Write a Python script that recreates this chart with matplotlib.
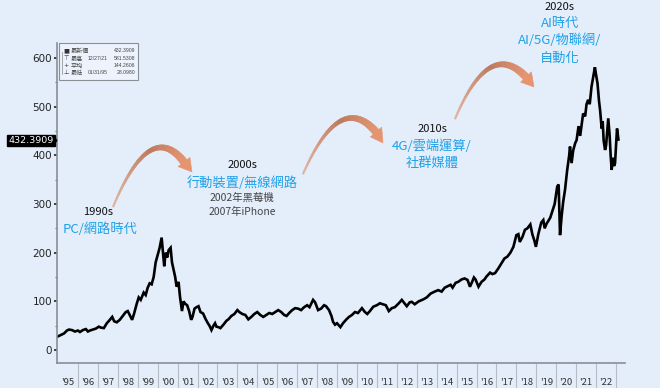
import numpy as np
import matplotlib
matplotlib.use("Agg")
import matplotlib.pyplot as plt
from matplotlib.patches import Polygon, Rectangle
from matplotlib.ticker import FixedLocator, MultipleLocator

plt.rcParams['font.family'] = ['Noto Sans CJK TC', 'DejaVu Sans']

# ---------------- data ----------------
years = [
 1995.00,1995.15,1995.30,1995.45,1995.55,1995.70,1995.85,1996.00,1996.10,1996.25,
 1996.40,1996.50,1996.60,1996.75,1996.90,1997.05,1997.15,1997.30,1997.45,1997.60,
 1997.72,1997.82,1997.95,1998.10,1998.25,1998.40,1998.50,1998.62,1998.72,1998.82,
 1998.95,1999.05,1999.15,1999.30,1999.40,1999.50,1999.60,1999.70,1999.80,1999.90,
 2000.00,2000.10,2000.20,2000.28,2000.33,2000.40,2000.48,2000.55,2000.65,2000.72,
 2000.80,2000.88,2000.95,2001.05,2001.12,2001.22,2001.30,2001.38,2001.48,2001.58,
 2001.68,2001.75,2001.85,2001.95,2002.05,2002.15,2002.28,2002.40,2002.52,2002.60,
 2002.70,2002.80,2002.88,2002.95,2003.05,2003.15,2003.30,2003.45,2003.55,2003.70,
 2003.85,2004.00,2004.10,2004.25,2004.40,2004.55,2004.70,2004.85,2005.00,2005.15,
 2005.30,2005.45,2005.60,2005.75,2005.90,2006.05,2006.20,2006.35,2006.47,2006.60,
 2006.75,2006.90,2007.05,2007.20,2007.35,2007.50,2007.62,2007.80,2007.90,2008.05,
 2008.20,2008.35,2008.45,2008.60,2008.72,2008.80,2008.90,2009.00,2009.17,2009.30,
 2009.45,2009.60,2009.75,2009.90,2010.05,2010.25,2010.40,2010.52,2010.65,2010.82,
 2011.00,2011.15,2011.30,2011.45,2011.60,2011.75,2011.90,2012.10,2012.25,2012.40,
 2012.50,2012.65,2012.75,2012.90,2013.10,2013.33,2013.50,2013.70,2013.90,2014.08,
 2014.25,2014.40,2014.55,2014.70,2014.80,2014.95,2015.08,2015.25,2015.40,2015.55,
 2015.67,2015.78,2015.87,2015.95,2016.10,2016.25,2016.40,2016.50,2016.68,2016.80,
 2016.93,2017.10,2017.25,2017.40,2017.55,2017.70,2017.85,2018.00,2018.10,2018.17,
 2018.30,2018.43,2018.55,2018.70,2018.80,2018.90,2018.98,2019.10,2019.25,2019.35,
 2019.42,2019.52,2019.60,2019.70,2019.80,2019.92,2020.05,2020.12,2020.19,2020.27,
 2020.35,2020.44,2020.55,2020.65,2020.69,2020.77,2020.85,2020.95,2021.02,2021.12,
 2021.20,2021.30,2021.35,2021.45,2021.52,2021.60,2021.68,2021.77,2021.85,2021.94,
 2022.00,2022.07,2022.15,2022.20,2022.28,2022.33,2022.38,2022.45,2022.50,2022.55,
 2022.61,2022.68,2022.73,2022.78,2022.85,2022.90,2022.95,2023.00,2023.05,2023.12,
]
values = [
 28,31,34,40,42,41,38,40,37,41,
 43,38,40,42,44,48,46,45,55,62,
 68,59,57,62,70,78,80,70,62,75,
 95,108,103,118,113,128,137,135,150,180,
 195,210,231,195,172,200,190,205,210,180,
 165,150,130,140,110,80,100,95,92,80,
 62,68,85,88,90,78,75,64,55,50,
 41,50,55,48,47,45,52,60,63,70,
 74,82,78,74,72,63,68,74,78,72,
 68,72,76,74,78,82,78,72,70,76,
 82,86,85,82,88,92,88,103,98,82,
 85,92,90,82,70,58,52,55,47,55,
 62,68,72,78,76,86,78,74,80,89,
 92,96,94,92,80,86,88,96,103,95,
 90,98,99,94,100,104,108,116,120,123,
 120,128,131,134,128,138,140,145,147,144,
 130,140,149,145,130,140,145,151,159,156,
 158,168,178,188,192,200,212,236,238,222,
 232,247,250,258,238,225,212,238,262,267,
 250,260,265,272,285,300,336,340,236,275,
 305,329,370,400,418,384,410,425,431,460,
 440,470,486,480,505,514,505,541,560,581,
 565,548,510,493,455,470,430,411,420,445,
 476,440,400,370,395,378,384,420,455,432.3909,
]
year_labels = ["'95","'96","'97","'98","'99","'00","'01","'02","'03","'04",
               "'05","'06","'07","'08","'09","'10","'11","'12","'13","'14",
               "'15","'16","'17","'18","'19","'20","'21","'22"]
latest = 432.3909
high_date, high_val = "12/27/21", 581.5308
avg_val = 144.2606
low_date, low_val = "01/31/95", 28.0980

# ---------------- figure ----------------
BG = '#e4eefb'
BLUE = '#1ea0e8'
W, H = 660, 388
fig = plt.figure(figsize=(6.6, 3.88), dpi=100, facecolor=BG)
ax = fig.add_axes([57/W, 1-363/H, (625-57)/W, (363-43)/H], facecolor=BG)

ax.plot(years, values, color='black', lw=1.9, solid_joinstyle='miter')
ax.set_xlim(1994.95, 2023.45)
ax.set_ylim(-26.7, 630.8)

for s in ['top', 'right']:
    ax.spines[s].set_visible(False)
for s in ['left', 'bottom']:
    ax.spines[s].set_color('#8a8f96')
    ax.spines[s].set_linewidth(1.2)

ax.yaxis.set_major_locator(MultipleLocator(100))
ax.yaxis.set_minor_locator(MultipleLocator(50))
ax.tick_params(axis='y', which='major', length=2.5, width=1.2, pad=1,
               labelsize=7.5, colors='#222222')
ax.tick_params(axis='y', which='minor', length=1.5, width=0.8, color='#777777')
for t in ax.get_yticklabels():
    t.set_family('DejaVu Sans')

n = len(year_labels)
ax.xaxis.set_major_locator(FixedLocator([1996 + i for i in range(n)]))
ax.xaxis.set_minor_locator(FixedLocator([1995.5 + i for i in range(n)]))
ax.set_xticklabels([], minor=False)
ax.set_xticklabels(year_labels, minor=True)
ax.tick_params(axis='x', which='major', length=18, width=0.8, color='#b5bcc6', direction='out')
ax.tick_params(axis='x', which='minor', length=0, pad=11, labelsize=6.8, labelcolor='#333333')

# ---------------- overlay in pixel coords ----------------
ov = fig.add_axes([0, 0, 1, 1])
ov.set_xlim(0, W)
ov.set_ylim(H, 0)
ov.axis('off')
ov.patch.set_alpha(0)

# price tag
ov.text(54, 140.5, f"{latest:.4f}", ha='right', va='center', fontsize=6.8, color='white',
        family='DejaVu Sans',
        bbox=dict(boxstyle='square,pad=0.15', fc='black', ec='black'))
ov.add_patch(Polygon([[54.5, 136], [57.5, 140.5], [54.5, 145]], closed=True, fc='black', ec='none'))

# legend box
ov.add_patch(Rectangle((58.5, 43), 79, 37, fc='#edf3fc', ec='#8a8f96', lw=0.8, zorder=3))
rows = [("■", "最新價", "", f"{latest:.4f}"),
        ("⊤", "最高", high_date, f"{high_val:.4f}"),
        ("+", "平均", "", f"{avg_val:.4f}"),
        ("⊥", "最低", low_date, f"{low_val:.4f}")]
ry = [51, 58.5, 65.5, 73]
for (sym, lab, dt, val), y in zip(rows, ry):
    ov.text(66, y, sym, ha='center', va='center', fontsize=4.5, color='#333333', zorder=4,
            family=['DejaVu Sans'])
    ov.text(71, y, lab, ha='left', va='center', fontsize=4.4, color='#444444', zorder=4)
    if dt:
        ov.text(88, y, dt, ha='left', va='center', fontsize=3.7, color='#444444', zorder=4,
                family='Liberation Sans')
    ov.text(135, y, val, ha='right', va='center', fontsize=3.7, color='#444444', zorder=4,
            family='Liberation Sans')
ov.plot([61.5, 61.5], [52, 74], color='#999999', lw=0.6, zorder=4)

# curved tapered arrows
def arrow(p0, p1, p2, tip, w0=1.5, w1=7.5, head_w=15):
    p0, p1, p2, tip = map(np.array, (p0, p1, p2, tip))
    t = np.linspace(0, 1, 60)
    pts = ((1-t)[:, None]**2)*p0 + (2*(1-t)*t)[:, None]*p1 + (t[:, None]**2)*p2
    d = 2*(1-t)[:, None]*(p1-p0) + 2*t[:, None]*(p2-p1)
    d = d / np.linalg.norm(d, axis=1)[:, None]
    nrm = np.stack([-d[:, 1], d[:, 0]], axis=1)
    w = (w0 + (w1-w0)*t**1.2)/2
    L = pts + nrm*w[:, None]
    R = pts - nrm*w[:, None]
    c_tail = np.array([0.88, 0.70, 0.62])
    c_mid = np.array([0.74, 0.47, 0.35])
    c_head = np.array([0.90, 0.58, 0.44])
    for i in range(len(t)-1):
        tt = t[i]
        if tt < 0.5:
            c = c_tail + (c_mid-c_tail)*(tt/0.5)
        else:
            c = c_mid + (c_head-c_mid)*((tt-0.5)/0.5)
        poly = [L[i], L[i+1], R[i+1], R[i]]
        ov.add_patch(Polygon(poly, closed=True, fc=c, ec=c, lw=0.4, zorder=2))
    nn = nrm[-1]
    base = pts[-1]
    head = [base + nn*head_w/2, tip, base - nn*head_w/2]
    ov.add_patch(Polygon(head, closed=True, fc=c_head, ec=c_head, lw=0.4, zorder=2))

arrow((113, 207), (150, 118), (184, 162), (192, 172))
arrow((303, 174), (340, 90), (376, 132), (383, 143))
arrow((455, 119), (489, 38), (526, 77), (534, 87))

# annotation texts
def label(x, y, s, fs, color):
    ov.text(x, y, s, ha='center', va='center', fontsize=fs, color=color)

label(98, 212, "1990s", 8, '#111111')
label(100, 229, "PC/網路時代", 9.5, BLUE)
label(242, 165, "2000s", 8, '#111111')
label(242, 183, "行動裝置/無線網路", 9.5, BLUE)
label(242, 198, "2002年黑莓機", 7.5, '#444444')
label(242, 212, "2007年iPhone", 7.5, '#444444')
label(432, 129, "2010s", 8, '#111111')
label(432, 146, "4G/雲端運算/", 9.5, BLUE)
label(432, 163, "社群媒體", 9.5, BLUE)
label(560, 7, "2020s", 8, '#111111')
label(560, 23, "AI時代", 9.5, BLUE)
label(560, 40, "AI/5G/物聯網/", 9.5, BLUE)
label(560, 58, "自動化", 9.5, BLUE)

fig.savefig("out.png", dpi=100, facecolor=BG)
